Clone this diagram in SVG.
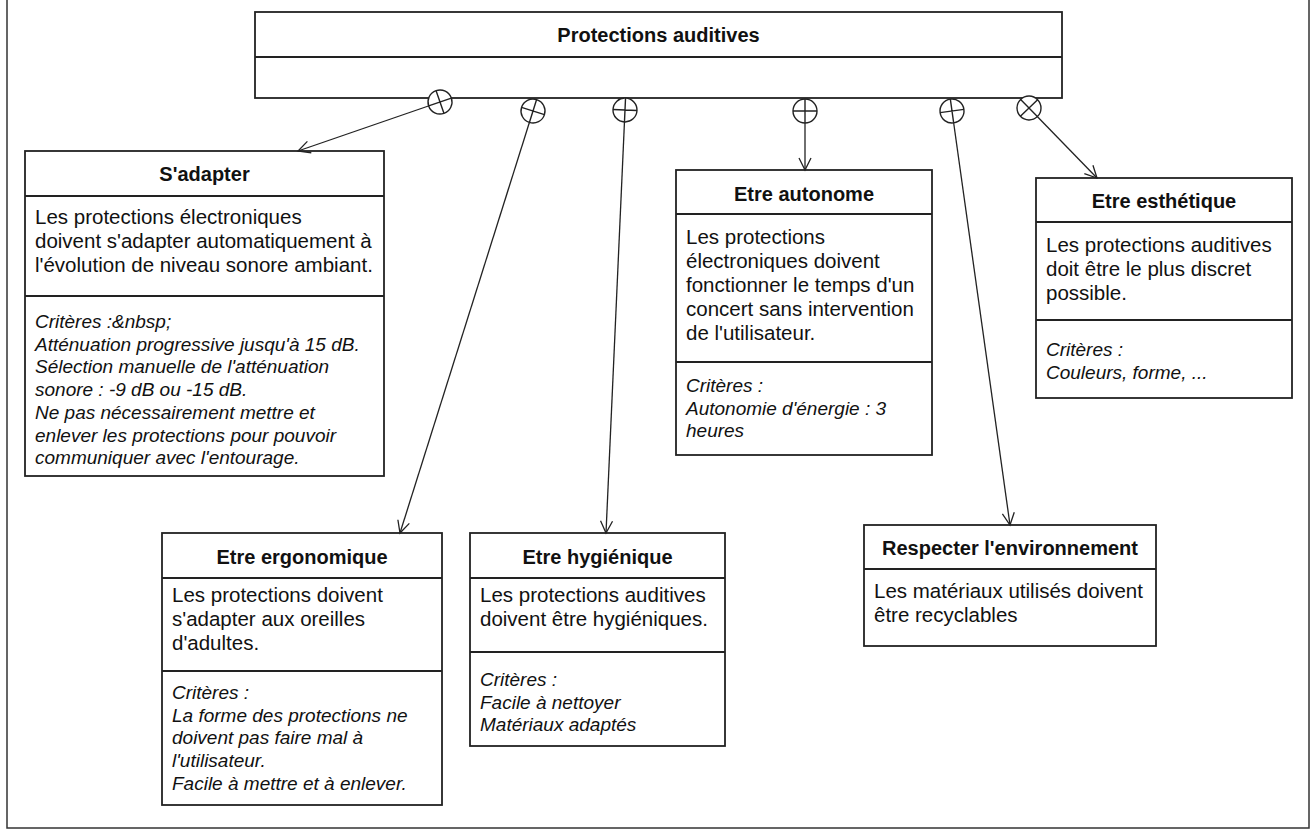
<svg xmlns="http://www.w3.org/2000/svg" width="1314" height="831" viewBox="0 0 1314 831">
<style>
.box{fill:#fff;stroke:#222;stroke-width:1.8}
.div{stroke:#222;stroke-width:1.8}
.t{font-family:"Liberation Sans",Arial,sans-serif;font-weight:bold;font-size:20px;fill:#111;text-anchor:middle}
.b{font-family:"Liberation Sans",Arial,sans-serif;font-size:20.5px;fill:#111}
.c{font-family:"Liberation Sans",Arial,sans-serif;font-size:19px;font-style:italic;fill:#111}
.e{fill:none;stroke:#222;stroke-width:1.3}
</style>
<defs>
<marker id="arr" viewBox="-14 -8 16 16" markerWidth="16" markerHeight="16" refX="0" refY="0" orient="auto" markerUnits="userSpaceOnUse">
<path d="M-12,-6 L0,0 L-12,6" fill="none" stroke="#222" stroke-width="1.3"/>
</marker>
<marker id="cp" viewBox="-14 -14 28 28" markerWidth="28" markerHeight="28" refX="0" refY="0" orient="auto" markerUnits="userSpaceOnUse">
<circle r="12" fill="#fff" stroke="#222" stroke-width="1.4"/>
<path d="M-12,0 L12,0 M0,-12 L0,12" stroke="#222" stroke-width="1.4"/>
</marker>
</defs>
<rect x="7" y="-2" width="1302" height="830" fill="#fff" stroke="#333" stroke-width="1.5"/>

<g id="protections">
<rect class="box" x="255" y="12" width="807" height="86"/>
<line class="div" x1="255" y1="57" x2="1062" y2="57"/>
<text class="t" x="658.5" y="42">Protections auditives</text>
</g>

<g id="sadapter">
<rect class="box" x="25" y="151" width="359" height="325"/>
<line class="div" x1="25" y1="196" x2="384" y2="196"/>
<line class="div" x1="25" y1="296" x2="384" y2="296"/>
<text class="t" x="204.5" y="181">S'adapter</text>
<text class="b" x="35" y="224">Les protections électroniques</text>
<text class="b" x="35" y="248">doivent s'adapter automatiquement à</text>
<text class="b" x="35" y="272">l'évolution de niveau sonore ambiant.</text>
<text class="c" x="35" y="328">Critères :&amp;nbsp;</text>
<text class="c" x="35" y="350.7">Atténuation progressive jusqu'à 15 dB.</text>
<text class="c" x="35" y="373.4">Sélection manuelle de l'atténuation</text>
<text class="c" x="35" y="396.1">sonore : -9 dB ou -15 dB.</text>
<text class="c" x="35" y="418.8">Ne pas nécessairement mettre et</text>
<text class="c" x="35" y="441.5">enlever les protections pour pouvoir</text>
<text class="c" x="35" y="464.2">communiquer avec l'entourage.</text>
</g>

<g id="ergonomique">
<rect class="box" x="162" y="533" width="280" height="272"/>
<line class="div" x1="162" y1="578" x2="442" y2="578"/>
<line class="div" x1="162" y1="671" x2="442" y2="671"/>
<text class="t" x="302" y="564">Etre ergonomique</text>
<text class="b" x="172" y="602">Les protections doivent</text>
<text class="b" x="172" y="626">s'adapter aux oreilles</text>
<text class="b" x="172" y="650">d'adultes.</text>
<text class="c" x="172" y="699">Critères :</text>
<text class="c" x="172" y="721.7">La forme des protections ne</text>
<text class="c" x="172" y="744.4">doivent pas faire mal à</text>
<text class="c" x="172" y="767.1">l'utilisateur.</text>
<text class="c" x="172" y="789.8">Facile à mettre et à enlever.</text>
</g>

<g id="hygienique">
<rect class="box" x="470" y="533" width="255" height="213"/>
<line class="div" x1="470" y1="578" x2="725" y2="578"/>
<line class="div" x1="470" y1="652" x2="725" y2="652"/>
<text class="t" x="597.5" y="564">Etre hygiénique</text>
<text class="b" x="480" y="602">Les protections auditives</text>
<text class="b" x="480" y="626">doivent être hygiéniques.</text>
<text class="c" x="480" y="686">Critères :</text>
<text class="c" x="480" y="708.7">Facile à nettoyer</text>
<text class="c" x="480" y="731.4">Matériaux adaptés</text>
</g>

<g id="autonome">
<rect class="box" x="676" y="170" width="256" height="285"/>
<line class="div" x1="676" y1="214" x2="932" y2="214"/>
<line class="div" x1="676" y1="362" x2="932" y2="362"/>
<text class="t" x="804" y="201">Etre autonome</text>
<text class="b" x="686" y="244">Les protections</text>
<text class="b" x="686" y="268">électroniques doivent</text>
<text class="b" x="686" y="292">fonctionner le temps d'un</text>
<text class="b" x="686" y="316">concert sans intervention</text>
<text class="b" x="686" y="340">de l'utilisateur.</text>
<text class="c" x="686" y="392">Critères :</text>
<text class="c" x="686" y="414.7">Autonomie d'énergie : 3</text>
<text class="c" x="686" y="437.4">heures</text>
</g>

<g id="esthetique">
<rect class="box" x="1036" y="178" width="256" height="220"/>
<line class="div" x1="1036" y1="222" x2="1292" y2="222"/>
<line class="div" x1="1036" y1="320" x2="1292" y2="320"/>
<text class="t" x="1164" y="208">Etre esthétique</text>
<text class="b" x="1046" y="252">Les protections auditives</text>
<text class="b" x="1046" y="276">doit être le plus discret</text>
<text class="b" x="1046" y="300">possible.</text>
<text class="c" x="1046" y="356">Critères :</text>
<text class="c" x="1046" y="378.7">Couleurs, forme, ...</text>
</g>

<g id="environnement">
<rect class="box" x="864" y="525" width="292" height="121"/>
<line class="div" x1="864" y1="569" x2="1156" y2="569"/>
<text class="t" x="1010" y="555">Respecter l'environnement</text>
<text class="b" x="874" y="598">Les matériaux utilisés doivent</text>
<text class="b" x="874" y="622">être recyclables</text>
</g>

<g id="connectors">
<line class="e" x1="440" y1="102" x2="298" y2="151" marker-start="url(#cp)" marker-end="url(#arr)"/>
<line class="e" x1="533" y1="111" x2="400" y2="533" marker-start="url(#cp)" marker-end="url(#arr)"/>
<line class="e" x1="625" y1="110" x2="606" y2="533" marker-start="url(#cp)" marker-end="url(#arr)"/>
<line class="e" x1="805" y1="111" x2="805" y2="170" marker-start="url(#cp)" marker-end="url(#arr)"/>
<line class="e" x1="952" y1="111" x2="1010" y2="525" marker-start="url(#cp)" marker-end="url(#arr)"/>
<line class="e" x1="1029" y1="108" x2="1097" y2="178" marker-start="url(#cp)" marker-end="url(#arr)"/>
</g>
</svg>
